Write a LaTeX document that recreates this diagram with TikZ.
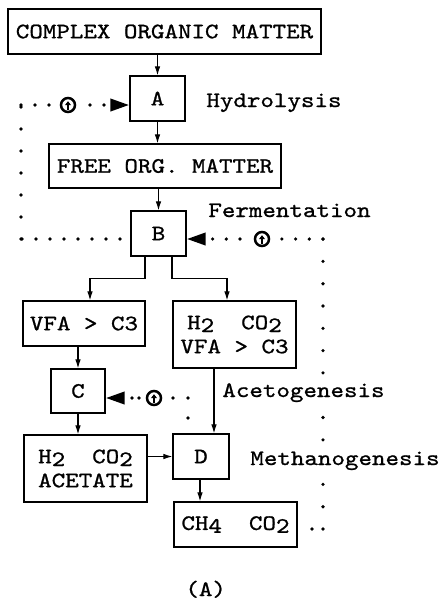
\documentclass[tikz,border=0pt]{standalone}
\usepackage{fontspec}
\setmonofont{Latin Modern Mono}[FakeStretch=1.17,FakeBold=1]
\usetikzlibrary{arrows.meta,calc}
\newcommand{\sbs}[1]{\raisebox{-0.3ex}{#1}}
\begin{document}
\begin{tikzpicture}[x=0.5pt,y=-0.5pt,
  box/.style={draw, line width=0.65pt, inner sep=0pt, font=\ttfamily\fontsize{11}{12}\selectfont},
  lbl/.style={inner sep=0pt, font=\ttfamily\fontsize{11}{11}\selectfont, anchor=base west},
  flow/.style={line width=0.55pt, -{Latex[length=4.5pt,width=2.8pt]}},
  tipbig/.style={-{Triangle[length=9.5pt,width=6pt]}},
  dotbase/.style={line width=1.8pt, line cap=round},
  dotH/.style={dotbase, dash pattern=on 0pt off 7pt},
  dotV/.style={dotbase, dash pattern=on 0pt off 11pt},
  dotHb/.style={dotbase, dash pattern=on 0pt off 6.85pt},
  dotVb/.style={dotbase, dash pattern=on 0pt off 11.15pt},
  dotVc/.style={dotbase, dash pattern=on 0pt off 10pt},
  dotHc/.style={dotbase, dash pattern=on 0pt off 7.5pt},
  dotHd/.style={dotbase, dash pattern=on 0pt off 3.5pt on 0pt off 10pt},
  sensor/.style={circle, draw, line width=1.25pt, fill=white, minimum size=7pt, inner sep=0pt,
    path picture={\draw[line width=0.8pt, -{Triangle[length=1.9pt,width=2.8pt]}]
      ([yshift=-2.6pt]path picture bounding box.center) -- ([yshift=1.9pt]path picture bounding box.center);}}
]
\useasboundingbox (0,0) rectangle (441,602);

% boxes
\node[box, minimum width=156.5pt, minimum height=22.5pt] (com) at (164.5,31.5) {COMPLEX ORGANIC MATTER};
\node[box, minimum width=27.5pt, minimum height=22.5pt] (A) at (157.5,98.5) {A};
\node[box, minimum width=116pt, minimum height=22pt] (free) at (165,166) {FREE ORG. MATTER};
\node[box, minimum width=27.5pt, minimum height=22.5pt] (B) at (158.5,233.5) {B};
\node[box, minimum width=61pt, minimum height=22.5pt] (vfa) at (84,323.5) {VFA > C3};
\node[box, minimum width=61.5pt, minimum height=33.5pt, align=center] (hcv) at (234.5,334.5) {H\sbs{2}\ \ CO\sbs{2}\\VFA > C3};
\node[box, minimum width=27pt, minimum height=22pt] (C) at (78,391) {C};
\node[box, minimum width=61.5pt, minimum height=33.5pt, align=left] (ace) at (85.5,468.5) {H\sbs{2}\ \ CO\sbs{2}\\ACETATE};
\node[box, minimum width=28pt, minimum height=22.5pt] (D) at (201,456.5) {D};
\node[box, minimum width=61.5pt, minimum height=22.5pt] (ch) at (235.5,524.5) {CH\sbs{4}\ \ CO\sbs{2}};

% solid flow
\draw[flow] (com.south -| A.north) -- (A.north);
\draw[flow] (A.south) -- (A.south |- free.north);
\draw[flow] (free.south -| B.north) -- (B.north);
\draw[flow] ([xshift=-6.75pt]B.south) -- ++(0,22) -| ([xshift=3pt]vfa.north);
\draw[flow] ([xshift=6.75pt]B.south) -- ++(0,22) -| ([xshift=-3.75pt]hcv.north);
\draw[flow] (vfa.south -| C.north) -- (C.north);
\draw[flow] ([xshift=-10.25pt]hcv.south) -- ([xshift=-10.25pt]hcv.south |- D.north);
\draw[flow] (C.south) -- (C.south |- ace.north);
\draw[flow] (D.west -| ace.east) -- (D.west);
\draw[flow] ([xshift=-0.5pt]D.south) -- ([xshift=-0.5pt]D.south |- ch.north);

% feedback loop 1 (B -> A)
\coordinate (l1a) at (120,239);
\coordinate (l1b) at (21,239);
\coordinate (l1c) at (21,105);
\coordinate (s1c) at (68,105);
\coordinate (l1d) at (90,105);
\draw[dotH] (l1a) -- (l1b);
\draw[dotV] (l1b) -- (l1c);
\draw[dotH] (l1c) -- (s1c);
\draw[dotH, tipbig] (l1d) -- ([yshift=-3.25pt]A.west);

% feedback loop 2 (CH4 -> B)
\coordinate (l2a) at (312,529);
\coordinate (l2b) at (323,529);
\coordinate (l2c) at (323,239);
\coordinate (s2c) at (262,239);
\coordinate (l2d) at (240,239);
\draw[dotH] (l2a) -- (l2b);
\draw[dotVb] (l2b) -- (l2c);
\draw[dotHb] (l2c) -- (s2c);
\draw[dotHb, tipbig] (l2d) -- ([yshift=-2.75pt]B.east);

% feedback loop 3 (D -> C)
\coordinate (l3a) at (188,418);
\coordinate (l3b) at (188,398);
\coordinate (s3c) at (154,398);
\coordinate (l3d) at (139,398);
\draw[dotVc] (l3a) -- (l3b);
\draw[dotHc] (l3b) -- (s3c);
\draw[dotHd, tipbig] (l3d) -- ([yshift=-3.5pt]C.east);

% sensors
\node[sensor] (s1) at (s1c) {};
\node[sensor] (s2) at (s2c) {};
\node[sensor] (s3) at (s3c) {};

% labels
\node[lbl] (hyd) at (206,107) {Hydrolysis};
\node[lbl] (fer) at (208,217) {Fermentation};
\node[lbl, fill=white, inner sep=1pt] (acl) at (220,397) {Acetogenesis};
\node[lbl, fill=white, inner sep=1pt] (met) at (248,465) {Methanogenesis};
\node[lbl] (cap) at (185,596) {(A)};
\end{tikzpicture}
\end{document}
